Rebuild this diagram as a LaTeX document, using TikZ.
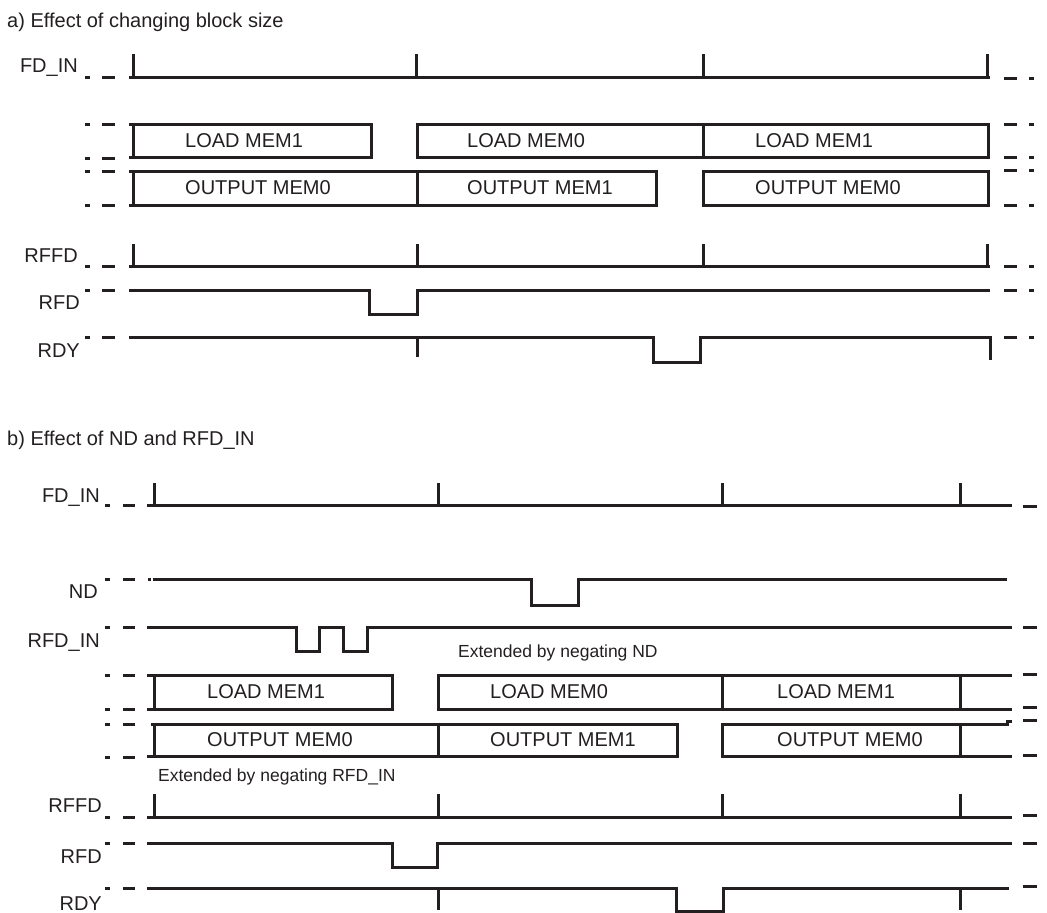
\documentclass[tikz,border=0pt]{standalone}
\usepackage{fontspec}
\setmainfont{Liberation Sans}
\definecolor{ink}{HTML}{231F20}

\begin{document}
\begin{tikzpicture}[
        x = 1pt, y = -1pt, % pixel units, y runs downwards
        line cap = butt,
        color = ink,
        font = \fontsize{20}{24}\selectfont % label size
    ]

    \tikzstyle{sig}=[line width = 3pt, line join = miter]
    \tikzstyle{signame}=[anchor = base east, inner sep = 0pt]
    \tikzstyle{phase}=[anchor = west, inner sep = 0pt]
    \tikzstyle{heading}=[anchor = base west, inner sep = 0pt]
    \tikzstyle{remark}=[anchor = base west, inner sep = 0pt,
        font = \fontsize{17.5}{20}\selectfont]

    \useasboundingbox (0,0) rectangle (1047,913);

    % ---------- a) ----------
    \node[heading] (TA) at (7,27) {a) Effect of changing block size};

    \node[signame] (FDA)   at (78,72)  {FD\_IN};
    \node[signame] (RFFDA) at (78,262) {RFFD};
    \node[signame] (RFDA)  at (80,309) {RFD};
    \node[signame] (RDYA)  at (80,357) {RDY};

    % loose ends
    \foreach \y in {77,124,158,171,205,266,290,337} {
        \draw[sig] (85,\y) -- (90,\y);
        \draw[sig] (102,\y) -- (115,\y);
    }
    \foreach \y in {78,124,157,170,205,266,290,337} {
        \draw[sig] (1004,\y) -- (1017,\y);
        \draw[sig] (1029,\y) -- (1034,\y);
    }

    \draw[sig] (129,77) -- (990,77);
    \foreach \x in {133,416,703,987}
        \draw[sig] (\x,54) -- (\x,77);

    \draw[sig] (129,124) -- (371,124) -- (371,157) -- (129,157);
    \draw[sig] (133,124) -- (133,157);
    \draw[sig] (417,124) rectangle (988,157);
    \draw[sig] (703,124) -- (703,157);
    \node[phase] (LA1) at (185,140.5) {LOAD MEM1};
    \node[phase] (LA2) at (467,140.5) {LOAD MEM0};
    \node[phase] (LA3) at (755,140.5) {LOAD MEM1};

    \draw[sig] (129,171) -- (656,171) -- (656,205) -- (129,205);
    \draw[sig] (133,171) -- (133,205);
    \draw[sig] (417,171) -- (417,205);
    \draw[sig] (703,171) rectangle (988,205);
    \node[phase] (OA1) at (185,188) {OUTPUT MEM0};
    \node[phase] (OA2) at (467,188) {OUTPUT MEM1};
    \node[phase] (OA3) at (755,188) {OUTPUT MEM0};

    \draw[sig] (129,266) -- (990,266);
    \foreach \x in {133,417,703,987}
        \draw[sig] (\x,244) -- (\x,266);

    \draw[sig] (129,290) -- (369,290) -- (369,314) -- (417,314)
        -- (417,290) -- (990,290);

    \draw[sig] (129,337) -- (653,337) -- (653,362) -- (700,362)
        -- (700,337) -- (990,337) -- (990,360);
    \draw[sig] (417,337) -- (417,357);

    % ---------- b) ----------
    \node[heading] (TB) at (7,445) {b) Effect of ND and RFD\_IN};

    \node[signame] (FDB)    at (100,502) {FD\_IN};
    \node[signame] (NDB)    at (98,598)  {ND};
    \node[signame] (RFDINB) at (100,647) {RFD\_IN};
    \node[signame] (RFFDB)  at (102,812) {RFFD};
    \node[signame] (RFDB)   at (102,863) {RFD};
    \node[signame] (RDYB)   at (102,910) {RDY};

    % loose ends
    \foreach \y in {505,579,627,675,709,724,757,817,843,888} {
        \draw[sig] (105,\y) -- (110,\y);
        \draw[sig] (123,\y) -- (135,\y);
    }
    \draw[sig] (148,579) -- (151,579);
    \foreach \y in {506,627,674,707,720,755,815,843,886}
        \draw[sig] (1023,\y) -- (1037,\y);

    \draw[sig] (147,505) -- (1012,505);
    \foreach \x in {154,438,722,960}
        \draw[sig] (\x,483) -- (\x,505);

    \draw[sig] (153,579) -- (531,579) -- (531,605) -- (578,605)
        -- (578,579) -- (1007,579);

    \draw[sig] (147,627) -- (296,627) -- (296,651) -- (319,651)
        -- (319,627) -- (343,627) -- (343,651) -- (367,651)
        -- (367,627) -- (1012,627);
    \node[remark] (EXND) at (458,657) {Extended by negating ND};

    \draw[sig] (147,675) -- (392,675) -- (392,709) -- (147,709);
    \draw[sig] (154,675) -- (154,709);
    \draw[sig] (1012,675) -- (438,675) -- (438,709) -- (1012,709);
    \draw[sig] (722,675) -- (722,709);
    \draw[sig] (960,675) -- (960,709);
    \node[phase] (LB1) at (207,692) {LOAD MEM1};
    \node[phase] (LB2) at (490,692) {LOAD MEM0};
    \node[phase] (LB3) at (777,692) {LOAD MEM1};

    \draw[sig] (151,724) -- (677,724) -- (677,756) -- (147,756);
    \draw[sig] (154,724) -- (154,756);
    \draw[sig] (438,724) -- (438,756);
    \draw[sig] (1012,721) -- (1007,721) -- (1007,724) -- (722,724)
        -- (722,756) -- (1012,756);
    \draw[sig] (960,724) -- (960,756);
    \node[phase] (OB1) at (207,740) {OUTPUT MEM0};
    \node[phase] (OB2) at (490,740) {OUTPUT MEM1};
    \node[phase] (OB3) at (777,740) {OUTPUT MEM0};
    \node[remark] (EXRFD) at (158,781) {Extended by negating RFD\_IN};

    \draw[sig] (147,817) -- (1012,817);
    \foreach \x in {154,438,722,960}
        \draw[sig] (\x,794) -- (\x,817);

    \draw[sig] (147,843) -- (392,843) -- (392,867) -- (437,867)
        -- (437,843) -- (1012,843);

    \draw[sig] (147,888) -- (676,888) -- (676,911) -- (723,911)
        -- (723,888) -- (1009,888);
    \draw[sig] (438,888) -- (438,910);
    \draw[sig] (960,888) -- (960,910);

\end{tikzpicture}
\end{document}
